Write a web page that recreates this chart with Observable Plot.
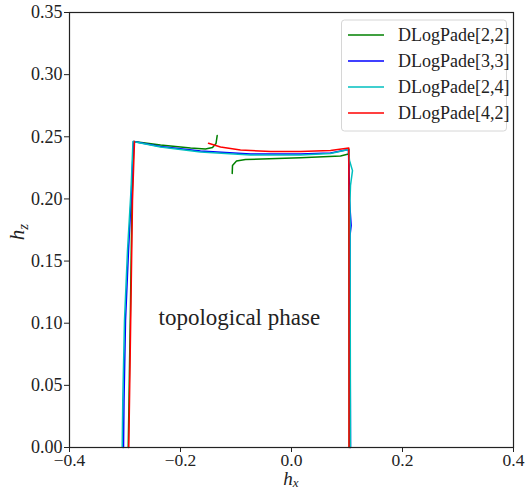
<!DOCTYPE html>
<html><head><meta charset="utf-8">
<script src="https://cdn.jsdelivr.net/npm/d3@7"></script>
<script src="https://cdn.jsdelivr.net/npm/@observablehq/plot@0.6"></script>
<style>
body{margin:0;background:#fff;}
#chart{position:relative;width:527px;height:489px;}
#chart svg, #chart svg text{font-family:"Liberation Serif","DejaVu Serif",serif !important;}
</style></head>
<body><div id="chart"></div>
<script>
const seriesNames = ["DLogPade[2,2]", "DLogPade[3,3]", "DLogPade[2,4]", "DLogPade[4,2]"];
const seriesColors = ["#008000", "#0000ff", "#00bfbf", "#ff0000"];

// DLogPade[2,2] (green): left/top branch with hook, second branch + right edge
const g22_a_x = [-0.2942, -0.2928, -0.2900, -0.2874, -0.2841, -0.2360, -0.1820, -0.1550, -0.1423, -0.1360, -0.1339];
const g22_a_y = [0.0000, 0.0378, 0.1180, 0.1987, 0.2462, 0.2434, 0.2409, 0.2401, 0.2414, 0.2446, 0.2510];
const g22_b_x = [-0.1068, -0.1063, -0.0991, -0.0829, 0.0162, 0.0883, 0.1027, 0.1032, 0.1036, 0.1040];
const g22_b_y = [0.2204, 0.2269, 0.2305, 0.2317, 0.2331, 0.2345, 0.2361, 0.2400, 0.1500, 0.0000];

// DLogPade[3,3] (blue)
const p33_x = [-0.3027, -0.3018, -0.2991, -0.2937, -0.2883, -0.2847, -0.2360, -0.1640, -0.0739, 0.0162, 0.0703, 0.1027, 0.1045, 0.1075, 0.1054, 0.1054, 0.1063];
const p33_y = [0.0000, 0.0378, 0.1022, 0.1585, 0.2068, 0.2462, 0.2422, 0.2385, 0.2361, 0.2361, 0.2369, 0.2397, 0.1987, 0.1786, 0.1706, 0.1183, 0.0000];

// DLogPade[2,4] (cyan)
const p24_x = [-0.3050, -0.3040, -0.3009, -0.2955, -0.2892, -0.2856, -0.2360, -0.1640, -0.0739, 0.0162, 0.0703, 0.1027, 0.1045, 0.1099, 0.1063, 0.1054, 0.1063];
const p24_y = [0.0000, 0.0378, 0.1022, 0.1585, 0.2068, 0.2462, 0.2418, 0.2377, 0.2353, 0.2353, 0.2365, 0.2397, 0.2309, 0.2228, 0.2108, 0.1987, 0.0000];

// DLogPade[4,2] (red): left edge, then top/right branch
const p42_a_x = [-0.2932, -0.2919, -0.2892, -0.2865, -0.2829];
const p42_a_y = [0.0000, 0.0378, 0.1180, 0.1987, 0.2462];
const p42_b_x = [-0.1495, -0.1279, -0.0919, -0.0378, 0.0162, 0.0703, 0.1032, 0.1036, 0.1036];
const p42_b_y = [0.2448, 0.2418, 0.2393, 0.2381, 0.2381, 0.2389, 0.2410, 0.1987, 0.0000];

const xTicks = [-0.4, -0.2, 0.0, 0.2, 0.4];
const yTicks = [0.00, 0.05, 0.10, 0.15, 0.20, 0.25, 0.30, 0.35];
const annotation = ["topological phase"];
const annotX = [-0.094];
const annotY = [0.1046];

const branches = [
  [seriesNames[0], "g22a", g22_a_x, g22_a_y],
  [seriesNames[0], "g22b", g22_b_x, g22_b_y],
  [seriesNames[1], "p33", p33_x, p33_y],
  [seriesNames[2], "p24", p24_x, p24_y],
  [seriesNames[3], "p42a", p42_a_x, p42_a_y],
  [seriesNames[3], "p42b", p42_b_x, p42_b_y]
];
const rows = branches.flatMap(([s, b, xs, ys]) => xs.map((x, i) => ({series: s, branch: b, x, y: ys[i]})));
const annRows = annotation.map((t, i) => ({t, x: annotX[i], y: annotY[i]}));

const svg = Plot.plot({
  width: 527, height: 489,
  marginLeft: 69, marginRight: 14, marginTop: 12, marginBottom: 42,
  style: {fontFamily: '"Liberation Serif", "DejaVu Serif", serif', color: "#222", background: "#fff"},
  x: {domain: [-0.4, 0.4], label: null},
  y: {domain: [0, 0.35], label: null},
  color: {domain: seriesNames, range: seriesColors},
  marks: [
    Plot.axisX({ticks: xTicks, tickFormat: d3.format(".1f"), tickSize: 5, tickPadding: 1, fontSize: 17.5, label: null, stroke: "#222"}),
    Plot.axisY({ticks: yTicks, tickFormat: d3.format(".2f"), tickSize: 5, tickPadding: 2, fontSize: 18, label: null, stroke: "#222"}),
    Plot.line(rows, {x: "x", y: "y", z: "branch", stroke: "series", strokeWidth: 1.5}),
    Plot.text(annRows, {x: "x", y: "y", text: "t", fontSize: 23, fill: "#222"}),
    Plot.frame({stroke: "#222", strokeWidth: 1.2})
  ]
});
document.getElementById("chart").appendChild(svg);

const s = d3.select(svg);
// axis labels with subscripts
const xl = s.append("text").attr("x", 291).attr("y", 485).attr("text-anchor", "middle")
  .attr("font-size", 19).attr("fill", "#222");
xl.append("tspan").attr("font-style", "italic").text("h");
xl.append("tspan").attr("font-style", "italic").attr("font-size", 13).attr("dy", 2).text("x");
const yl = s.append("text").attr("transform", "translate(24,232) rotate(-90)").attr("text-anchor", "middle")
  .attr("font-size", 21).attr("fill", "#222");
yl.append("tspan").attr("font-style", "italic").text("h");
yl.append("tspan").attr("font-style", "italic").attr("font-size", 15).attr("dy", 4).text("z");

// legend
const lg = s.append("g");
lg.append("rect").attr("x", 341.5).attr("y", 20).attr("width", 165).attr("height", 111)
  .attr("rx", 3).attr("fill", "#fff").attr("fill-opacity", 0.8).attr("stroke", "#d6d6d6");
seriesNames.forEach((n, i) => {
  const y = 35 + i * 26;
  lg.append("line").attr("x1", 348).attr("x2", 384).attr("y1", y).attr("y2", y)
    .attr("stroke", seriesColors[i]).attr("stroke-width", 1.5);
  lg.append("text").attr("x", 398).attr("y", y).attr("dy", "0.35em").attr("font-size", 18)
    .attr("text-anchor", "start").attr("fill", "#222").text(n);
});
</script></body></html>
